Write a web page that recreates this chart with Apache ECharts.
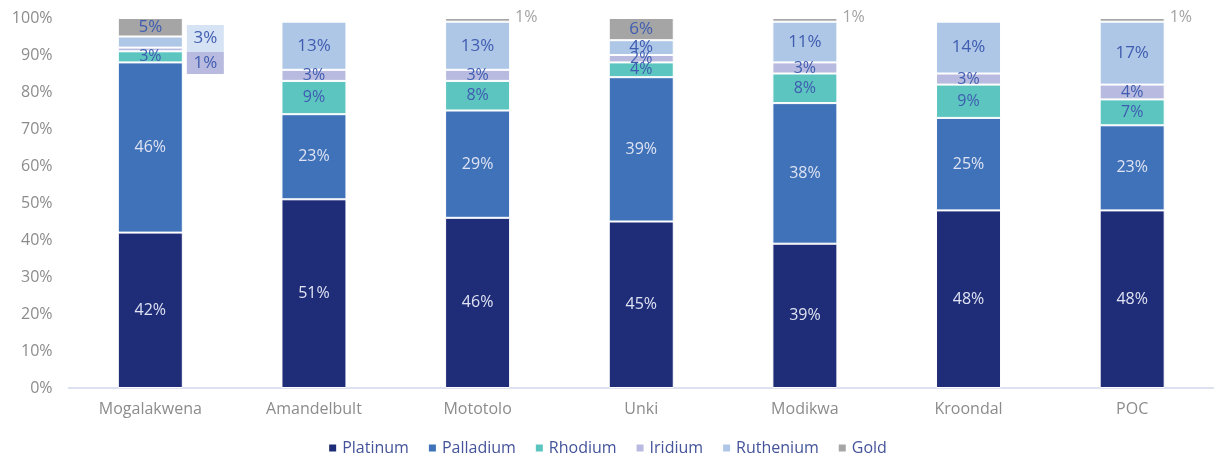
<!DOCTYPE html>
<html>
<head>
<meta charset="utf-8">
<script src="https://cdn.jsdelivr.net/npm/echarts@6/dist/echarts.min.js"></script>
<style>
  html, body { margin: 0; padding: 0; background: #fff; }
  #chart { width: 1214px; height: 461px; }
</style>
</head>
<body>
<div id="chart"></div>
<script>
// Metal split (% of basket) per mine
const categories = ['Mogalakwena', 'Amandelbult', 'Mototolo', 'Unki', 'Modikwa', 'Kroondal', 'POC'];
const platinum  = [42, 51, 46, 45, 39, 48, 48];
const palladium = [46, 23, 29, 39, 38, 25, 23];
const rhodium   = [3, 9, 8, 4, 8, 9, 7];
const iridium   = [1, 3, 3, 2, 3, 3, 4];
const ruthenium = [3, 13, 13, 4, 11, 14, 17];
const gold      = [5, 0.3, 1, 6, 1, null, 1];
const yTicks    = [0, 10, 20, 30, 40, 50, 60, 70, 80, 90, 100];

const FONT = 'Open Sans';
const darkLabel = '#dfe3f3';
const lightLabel = '#3f5cb0';

const colors = {
  Platinum: '#1f2c77',
  Palladium: '#3f72b8',
  Rhodium: '#5cc5c0',
  Iridium: '#b8bbdf',
  Ruthenium: '#aec7e7',
  Gold: '#a5a5a5'
};

function pct(v) { return (v == null || v < 1) ? '' : v + '%'; }

function baseLabel(color, size) {
  return {
    show: true,
    position: 'inside',
    color: color,
    fontFamily: FONT,
    fontSize: size,
    formatter: p => pct(p.value)
  };
}

// Small segments on the first mine get their labels in boxes beside the bar
function calloutItem(v, bg, dy, h) {
  return {
    value: v,
    label: {
      show: true,
      position: 'right',
      distance: 4,
      offset: [0, dy],
      formatter: '{b|' + v + '%}',
      rich: {
        b: {
          width: 37, height: h, lineHeight: h, align: 'center',
          backgroundColor: bg, color: lightLabel, fontFamily: FONT, fontSize: 17
        }
      }
    }
  };
}

// Thin gold slivers labelled outside the bar, in grey
function goldItems(arr) {
  return arr.map(v => {
    if (v != null && v <= 1) {
      return {
        value: v,
        label: {
          show: v >= 1,
          position: 'right',
          distance: 5,
          offset: [0, -2],
          color: '#a3a3a3',
          fontFamily: FONT,
          fontSize: 16,
          formatter: p => pct(p.value)
        }
      };
    }
    return v;
  });
}

const iridiumData = iridium.map((v, i) => i === 0 ? calloutItem(v, '#b8bbdf', 13.5, 22) : v);
const rutheniumData = ruthenium.map((v, i) => i === 0 ? calloutItem(v, '#d6e3f4', -3.5, 27) : v);

function bar(name, data, labelColor, labelSize) {
  return {
    name: name,
    type: 'bar',
    stack: 'total',
    barWidth: 65,
    data: data,
    itemStyle: { color: colors[name], borderColor: '#ffffff', borderWidth: 1 },
    label: baseLabel(labelColor, labelSize),
    emphasis: { disabled: true }
  };
}

const chart = echarts.init(document.getElementById('chart'), null, { renderer: 'canvas' });
chart.setOption({
  animation: false,
  textStyle: { fontFamily: FONT },
  grid: { left: 68.5, top: 18, width: 1153, height: 370, containLabel: false },
  legend: {
    bottom: 0,
    left: 'center',
    icon: 'rect',
    itemWidth: 9,
    itemHeight: 9,
    itemGap: 18,
    textStyle: { color: '#44539a', fontFamily: FONT, fontSize: 16 },
    data: ['Platinum', 'Palladium', 'Rhodium', 'Iridium', 'Ruthenium', 'Gold']
  },
  xAxis: {
    type: 'category',
    data: categories,
    axisLine: { lineStyle: { color: '#d3d7ea', width: 1.5 } },
    axisTick: { show: false },
    axisLabel: { color: '#8c8c8c', fontFamily: FONT, fontSize: 16, margin: 13 }
  },
  yAxis: {
    type: 'value',
    min: yTicks[0],
    max: yTicks[yTicks.length - 1],
    interval: 10,
    splitLine: { show: false },
    axisLine: { show: false },
    axisTick: { show: false },
    axisLabel: { color: '#8c8c8c', fontFamily: FONT, fontSize: 16, margin: 16, formatter: '{value}%' }
  },
  series: [
    bar('Platinum', platinum, darkLabel, 16),
    bar('Palladium', palladium, darkLabel, 16),
    bar('Rhodium', rhodium, lightLabel, 16),
    bar('Iridium', iridiumData, lightLabel, 16),
    bar('Ruthenium', rutheniumData, lightLabel, 17),
    bar('Gold', goldItems(gold), lightLabel, 17)
  ]
});
</script>
</body>
</html>
